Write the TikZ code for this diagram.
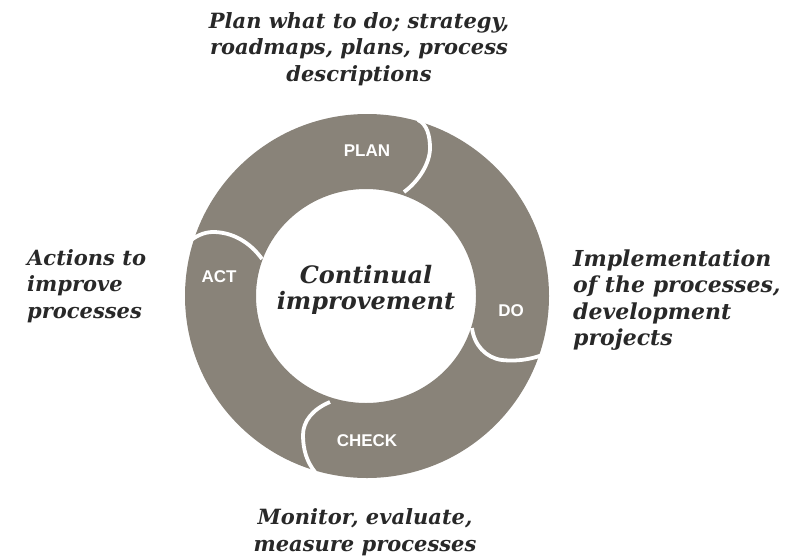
\documentclass[tikz,border=0pt]{standalone}
\usepackage{fontspec}
\setmainfont{DejaVu Serif}
\newfontfamily\labelfont{Liberation Sans}
\definecolor{ringgray}{RGB}{137,131,121}
\definecolor{txt}{RGB}{40,40,40}
\begin{document}
\begin{tikzpicture}[x=1pt,y=-1pt,
  note/.style={font=\fontsize{21}{26.5}\selectfont\bfseries\itshape, text=txt, inner sep=0pt},
  seglabel/.style={font=\labelfont\fontsize{17}{19}\selectfont\bfseries, text=white, inner sep=0pt},
  gap/.style={white, line width=3.8pt}]
\useasboundingbox (0,0) rectangle (792,555);
% ring
\fill[ringgray, even odd rule] (367,296) circle[radius=182pt] (366,296) ellipse[x radius=110pt, y radius=107pt];
% segment boundaries (rounded heads)
\draw[gap] (418,120) .. controls (427,124) and (430,136) .. (430,148) .. controls (430,163) and (419,181) .. (404,192);
\draw[gap] (472,328) .. controls (474,345) and (486,358) .. (502,360) .. controls (520,362) and (538,358) .. (551,351);
\draw[gap] (330,402) .. controls (313,409) and (303,421) .. (303,435) .. controls (303,450) and (307,462) .. (315,472);
\draw[gap] (185,245) .. controls (195,236) and (204,232) .. (213,232) .. controls (232,232) and (250,242) .. (262,259);
% labels
\node[seglabel] (plan) at (367,151) {PLAN};
\node[seglabel] (do) at (511,311) {DO};
\node[seglabel] (check) at (367,441) {CHECK};
\node[seglabel] (act) at (219,277) {ACT};
\node[note, font=\fontsize{24}{26.5}\selectfont\bfseries\itshape, align=center] (centre) at (366,290) {Continual\\improvement};
% annotations
\node[note, align=center] (plannote) at (359,49) {Plan what to do; strategy,\\roadmaps, plans, process\\descriptions};
\node[note, align=left, anchor=west, font=\fontsize{22}{26.5}\selectfont\bfseries\itshape] (donote) at (573,300) {Implementation\\of the processes,\\development\\projects};
\node[note, align=left, anchor=west] (actnote) at (27,286) {Actions to\\improve\\processes};
\node[note, align=center] (checknote) at (365,532) {Monitor, evaluate,\\measure processes};
\end{tikzpicture}
\end{document}
